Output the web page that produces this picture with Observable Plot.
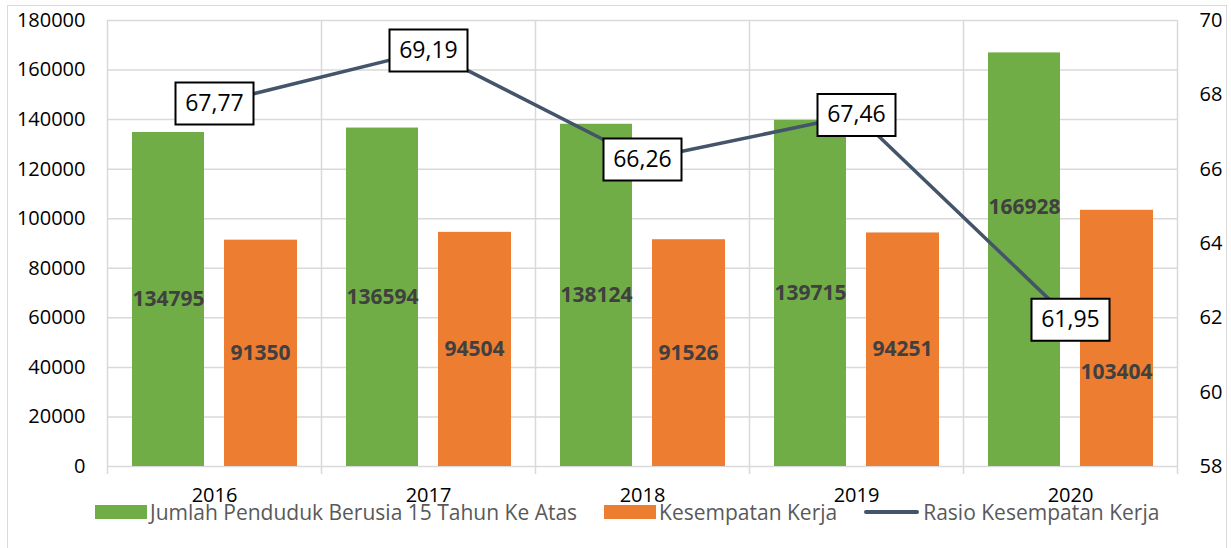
<!DOCTYPE html>
<html>
<head>
<meta charset="utf-8">
<script src="https://cdn.jsdelivr.net/npm/d3@7"></script>
<script src="https://cdn.jsdelivr.net/npm/@observablehq/plot@0.6"></script>
<style>
  html, body { margin: 0; padding: 0; background: #fff; }
  #wrap { position: relative; width: 1231px; height: 548px; overflow: hidden; font-family: "Open Sans", "Noto Sans", sans-serif; }
  #border { position: absolute; left: 7px; top: 5px; width: 1220px; height: 560px; border: 1.5px solid #d9d9d9; box-sizing: border-box; }
  #chart { position: absolute; left: 0; top: 0; }
  #legend { position: absolute; top: 498px; left: 95px; display: flex; align-items: center; font-size: 21px; color: #595959; white-space: nowrap; }
  .sw { display: inline-block; width: 52px; height: 14px; margin-right: 3px; }
  .ln { display: inline-block; width: 55px; height: 4px; border-radius: 2px; background: #44546a; margin-right: 4px; }
  .item { display: flex; align-items: center; margin-right: 27px; }
</style>
</head>
<body>
<div id="wrap">
  <div id="border"></div>
  <div id="chart"></div>
  <div id="legend">
    <span class="item"><span class="sw" style="background:#70ad47"></span>Jumlah Penduduk Berusia 15 Tahun Ke Atas</span>
    <span class="item"><span class="sw" style="background:#ed7d31"></span>Kesempatan Kerja</span>
    <span class="item"><span class="ln"></span>Rasio Kesempatan Kerja</span>
  </div>
</div>
<script>
const years = ["2016", "2017", "2018", "2019", "2020"];
const penduduk = [134795, 136594, 138124, 139715, 166928];
const kesempatan = [91350, 94504, 91526, 94251, 103404];
const rasio = [67.77, 69.19, 66.26, 67.46, 61.95];
const rasioLabels = ["67,77", "69,19", "66,26", "67,46", "61,95"];
const leftTicks = [0, 20000, 40000, 60000, 80000, 100000, 120000, 140000, 160000, 180000];
const rightTicks = [58, 60, 62, 64, 66, 68, 70];

const LMAX = 180000, RMIN = 58, RMAX = 70;
const toLeft = v => (v - RMIN) / (RMAX - RMIN) * LMAX;
const toRight = v => RMIN + v / LMAX * (RMAX - RMIN);

const data = years.map((y, i) => ({
  year: y, pop: penduduk[i], kerja: kesempatan[i],
  ratio: rasio[i], ratioY: toLeft(rasio[i]), label: rasioLabels[i]
}));

const boxSymbol = {
  draw(context) { context.rect(-39, -21, 78, 42); }
};

const half = 107;
const labelFont = { fontSize: 21, fontWeight: "bold", fill: "#404040" };

const plot = Plot.plot({
  width: 1231,
  height: 548,
  marginTop: 20,
  marginBottom: 82,
  marginLeft: 107,
  marginRight: 54,
  style: { fontFamily: "'Open Sans', 'Noto Sans', sans-serif", background: "transparent" },
  x: { type: "band", domain: years, padding: 0, label: null },
  y: { domain: [0, LMAX], label: null },
  marks: [
    Plot.ruleY(leftTicks, { stroke: "#d9d9d9", strokeWidth: 1.5 }),
    Plot.ruleX(years, { x: d => d, dx: -half, stroke: "#d9d9d9", strokeWidth: 1.5, insetBottom: -8 }),
    Plot.ruleX([years[years.length - 1]], { x: d => d, dx: half, stroke: "#d9d9d9", strokeWidth: 1.5, insetBottom: -8 }),
    Plot.barY(data, { x: "year", y: "pop", fill: "#70ad47", insetLeft: 25, insetRight: 117 }),
    Plot.barY(data, { x: "year", y: "kerja", fill: "#ed7d31", insetLeft: 117, insetRight: 24 }),
    Plot.text(data.slice(0, 4), { x: "year", y: d => d.pop / 2, text: d => String(d.pop), dx: -46, ...labelFont }),
    Plot.text(data.slice(0, 4), { x: "year", y: d => d.kerja / 2, text: d => String(d.kerja), dx: 46, ...labelFont }),
    Plot.text(data.slice(4), { x: "year", y: d => d.pop / 2, text: d => String(d.pop), dx: -46, dy: -52, ...labelFont }),
    Plot.text(data.slice(4), { x: "year", y: d => d.kerja / 2, text: d => String(d.kerja), dx: 46, dy: 34, ...labelFont }),
    Plot.lineY(data, { x: "year", y: "ratioY", stroke: "#44546a", strokeWidth: 3.5 }),
    Plot.dot(data, { x: "year", y: "ratioY", symbol: boxSymbol, r: 10, fill: "white", stroke: "black", strokeWidth: 2 }),
    Plot.text(data, { x: "year", y: "ratioY", text: "label", fontSize: 23, fill: "black" }),
    Plot.axisY(leftTicks, { anchor: "left", tickSize: 0, tickPadding: 22, fontSize: 20, color: "black", label: null, tickFormat: d => String(d) }),
    Plot.axisY(rightTicks.map(toLeft), { anchor: "right", tickSize: 0, tickPadding: 22, fontSize: 20, label: null, tickFormat: d => String(Math.round(toRight(d))) }),
    Plot.axisX({ anchor: "bottom", tickSize: 0, tickPadding: 21, fontSize: 20, label: null })
  ]
});
plot.querySelectorAll("[aria-label='y-axis tick label'] text, [aria-label='x-axis tick label'] text").forEach(t => t.setAttribute("fill", "black"));
document.getElementById("chart").appendChild(plot);
</script>
</body>
</html>
